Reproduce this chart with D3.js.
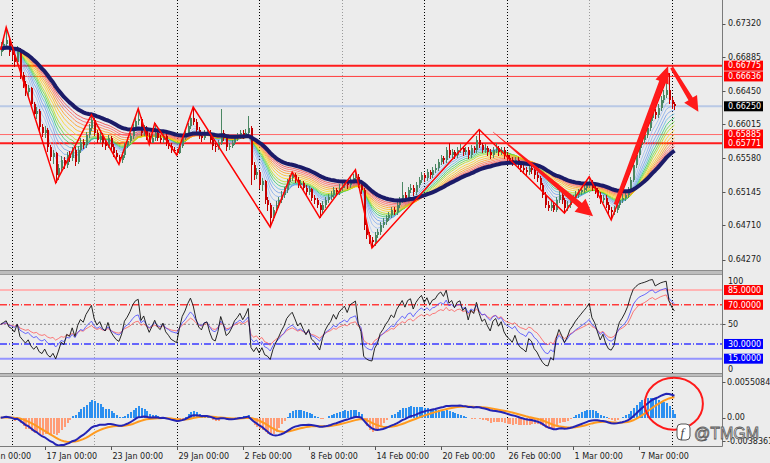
<!DOCTYPE html>
<html>
<head>
<meta charset="utf-8">
<title>AUDUSD H4</title>
<script src="https://cdn.jsdelivr.net/npm/d3@7"></script>
<style>
  html, body { margin: 0; padding: 0; background: #ececec; }
  #chart { width: 770px; height: 463px; }
  text { font-family: 'DejaVu Sans', sans-serif; font-size: 8px; fill: #1a1a1a; }
</style>
</head>
<body>
<div id="chart"></div>
<script>
// H4 bars, bar 0 = Mon 15 Jan 00:00. Prices in pips (1 pip = 0.0001)
const firstBar = -4;

const opens = [
  6695,6700,6706,6711,6695,6691,6682,6698,6665,6654, 6643,6648,6628,6615,6619,6598,6590,6595,6572,6560,
  6564,6536,6545,6556,6549,6562,6558,6569,6553,6569, 6579,6575,6588,6597,6607,6591,6582,6587,6578,6574,
  6584,6572,6565,6559,6556,6562,6575,6580,6587,6598, 6606,6609,6591,6597,6587,6578,6584,6591,6584,6581,
  6587,6578,6574,6569,6567,6565,6574,6584,6590,6600, 6610,6605,6595,6587,6584,6590,6591,6582,6574,6572,
  6578,6591,6584,6572,6574,6578,6584,6587,6591,6587, 6591,6597,6549,6536,6540,6523,6528,6504,6498,6481,
  6491,6498,6504,6511,6517,6527,6532,6536,6530,6523, 6526,6520,6514,6518,6507,6504,6498,6491,6498,6504,
  6508,6511,6517,6514,6520,6523,6526,6523,6530,6532, 6534,6523,6517,6472,6459,6452,6449,6459,6463,6472,
  6476,6481,6485,6491,6489,6498,6504,6511,6507,6517, 6520,6514,6523,6530,6536,6532,6540,6536,6543,6545,
  6553,6558,6556,6569,6562,6566,6562,6569,6571,6566, 6569,6562,6571,6569,6582,6575,6569,6571,6566,6562,
  6569,6571,6566,6569,6562,6558,6556,6553,6556,6549, 6545,6543,6540,6545,6543,6536,6532,6523,6511,6498,
  6494,6498,6491,6504,6511,6504,6494,6498,6504,6507, 6511,6514,6517,6520,6523,6527,6520,6517,6511,6504,
  6507,6498,6491,6489,6491,6498,6504,6507,6511,6517, 6530,6549,6562,6575,6582,6588,6597,6610,6618,6614,
  6623,6633,6640,6646,6633,6628
];
const highs = [
  6708,6712,6727,6715,6702,6696,6703,6700,6669,6658, 6652,6650,6631,6624,6621,6602,6600,6597,6575,6568,
  6566,6550,6561,6560,6566,6567,6573,6572,6574,6584, 6583,6592,6602,6614,6610,6594,6592,6590,6582,6588,
  6587,6576,6569,6562,6566,6578,6585,6591,6602,6611, 6622,6611,6601,6600,6590,6589,6603,6594,6588,6591,
  6590,6581,6577,6573,6570,6578,6588,6594,6604,6614, 6624,6608,6598,6590,6594,6596,6594,6585,6578,6582,
  6621,6595,6587,6578,6582,6588,6591,6595,6594,6596, 6612,6600,6553,6545,6543,6532,6530,6508,6500,6495,
  6502,6508,6515,6521,6531,6536,6540,6539,6533,6530, 6529,6523,6522,6520,6510,6507,6500,6502,6508,6512,
  6515,6521,6520,6524,6527,6530,6529,6534,6537,6543, 6537,6526,6520,6476,6463,6456,6463,6467,6476,6480,
  6485,6489,6495,6495,6502,6508,6527,6514,6521,6524, 6523,6527,6534,6540,6539,6544,6543,6547,6550,6557,
  6562,6561,6573,6578,6570,6569,6573,6576,6574,6573, 6572,6575,6574,6586,6595,6578,6576,6574,6570,6573,
  6577,6574,6573,6572,6566,6562,6560,6560,6559,6553, 6549,6547,6549,6548,6546,6540,6535,6526,6514,6502,
  6503,6501,6508,6515,6514,6507,6502,6508,6511,6515, 6518,6521,6524,6528,6534,6530,6524,6520,6514,6511,
  6510,6501,6495,6496,6502,6508,6512,6515,6521,6534, 6553,6566,6579,6587,6593,6601,6614,6623,6622,6628,
  6638,6646,6655,6668,6637,6631
];
const lows = [
  6690,6696,6702,6690,6685,6676,6679,6660,6648,6638, 6636,6623,6610,6609,6592,6585,6584,6566,6554,6550,
  6526,6530,6541,6544,6545,6553,6554,6548,6550,6565, 6570,6571,6584,6593,6586,6577,6578,6573,6569,6571,
  6567,6560,6555,6550,6552,6558,6571,6577,6583,6594, 6601,6587,6587,6582,6576,6577,6580,6580,6577,6578,
  6574,6570,6565,6564,6562,6563,6571,6581,6586,6596, 6601,6591,6583,6579,6581,6586,6577,6569,6566,6568,
  6575,6580,6567,6568,6571,6575,6580,6583,6583,6584, 6588,6523,6530,6531,6518,6515,6499,6490,6469,6477,
  6487,6494,6500,6507,6513,6523,6528,6526,6519,6519, 6516,6510,6510,6503,6499,6493,6481,6487,6494,6500,
  6504,6507,6510,6511,6516,6519,6518,6520,6526,6528, 6519,6512,6465,6453,6447,6442,6445,6455,6459,6468,
  6472,6477,6481,6484,6485,6494,6500,6502,6503,6513, 6509,6510,6519,6526,6527,6528,6531,6532,6539,6541,
  6549,6551,6552,6558,6558,6557,6558,6565,6561,6562, 6557,6558,6564,6565,6571,6564,6565,6561,6557,6558,
  6565,6561,6562,6557,6553,6551,6548,6549,6544,6540, 6538,6535,6536,6538,6531,6527,6518,6506,6493,6490,
  6490,6488,6489,6500,6499,6487,6490,6494,6500,6503, 6507,6510,6513,6516,6519,6516,6512,6506,6499,6500,
  6493,6486,6478,6484,6487,6494,6500,6502,6507,6514, 6527,6545,6558,6571,6578,6584,6593,6606,6609,6610,
  6619,6629,6636,6628,6622,6620
];
const closes = [
  6700,6706,6711,6695,6691,6682,6698,6665,6654,6643, 6648,6628,6615,6619,6598,6590,6595,6572,6560,6564,
  6536,6545,6556,6549,6562,6558,6569,6553,6569,6579, 6575,6588,6597,6607,6591,6582,6587,6578,6574,6584,
  6572,6565,6559,6556,6562,6575,6580,6587,6598,6606, 6609,6591,6597,6587,6578,6584,6591,6584,6581,6587,
  6578,6574,6569,6567,6565,6574,6584,6590,6600,6610, 6605,6595,6587,6584,6590,6591,6582,6574,6572,6578,
  6591,6584,6572,6574,6578,6584,6587,6591,6587,6591, 6597,6549,6536,6540,6523,6528,6504,6498,6481,6491,
  6498,6504,6511,6517,6527,6532,6536,6530,6523,6526, 6520,6514,6518,6507,6504,6498,6491,6498,6504,6508,
  6511,6517,6514,6520,6523,6526,6523,6530,6532,6534, 6523,6517,6472,6459,6452,6449,6459,6463,6472,6476,
  6481,6485,6491,6489,6498,6504,6511,6507,6517,6520, 6514,6523,6530,6536,6532,6540,6536,6543,6545,6553,
  6558,6556,6569,6562,6566,6562,6569,6571,6566,6569, 6562,6571,6569,6582,6575,6569,6571,6566,6562,6569,
  6571,6566,6569,6562,6558,6556,6553,6556,6549,6545, 6543,6540,6545,6543,6536,6532,6523,6511,6498,6494,
  6498,6491,6504,6511,6504,6494,6498,6504,6507,6511, 6514,6517,6520,6523,6527,6520,6517,6511,6504,6507,
  6498,6491,6489,6491,6498,6504,6507,6511,6517,6530, 6549,6562,6575,6582,6588,6597,6610,6618,6614,6623,
  6633,6640,6646,6633,6628,6625
];

const priceTicks = [0.67320, 0.66885, 0.66450, 0.66015, 0.65580, 0.65145, 0.64710, 0.64270];
const levelPrices = [0.66775, 0.66636, 0.66250, 0.65885, 0.65771];

const dateTickBars = [-12, 12, 36, 60, 84, 108, 132, 156, 180, 204, 228];
const dateTickLabels = ['11 Jan 00:00', '17 Jan 00:00', '23 Jan 00:00', '29 Jan 00:00', '2 Feb 00:00',
  '8 Feb 00:00', '14 Feb 00:00', '20 Feb 00:00', '26 Feb 00:00', '1 Mar 00:00', '7 Mar 00:00'];
const weekBars = [0, 30, 60, 90, 120, 150, 180, 210, 240];
const grayWeekBars = [30, 120, 210];

const zigzagBars = [-4, -2, 16, 29, 39, 46, 50, 52, 60, 66, 94, 102, 112, 125, 131, 170, 201, 210, 218, 239];
const zigzagPrices = [6698, 6727, 6526, 6614, 6550, 6622, 6576, 6603, 6562, 6624, 6469, 6540, 6481, 6543,
  6442, 6595, 6487, 6534, 6478, 6668];

const arrowStartBar = [175, 219.5, 240];
const arrowStartPrice = [0.6592, 0.6498, 0.6675];
const arrowEndBar = [211.4, 238.7, 249.7];
const arrowEndPrice = [0.6483, 0.6677, 0.6618];

const ribbonPeriods = [4, 6, 8, 10, 12, 14, 16, 18, 21, 24, 27, 30, 33, 36];
const slowPeriod = 42;
const rsiPeriods = [21, 14, 7];          // red, blue, black
const rsiLevels = [85, 70, 50, 30, 15];
const macdTicks = [0.0055084, 0, -0.0038361];
const macdTickLabels = ['0.0055084', '0.00', '-0.0038361'];
const osmaFactor = 2.5;

const ribbonColors = ['#a8c6f2', '#8fb5f0', '#77a4ee', '#5f93ea', '#4fb4e0', '#22c466', '#55d82a', '#b4d800',
  '#ffd000', '#ffb200', '#ff9400', '#ff7030', '#ff4c4c', '#ec2c2c'];

function ema(values, n) {
  const a = 2 / (n + 1);
  const out = [];
  values.forEach((v, i) => out.push(i === 0 ? v : out[i - 1] + a * (v - out[i - 1])));
  return out;
}

// Wilder RSI, started from a neutral average so the first bars do not spike
function rsi(values, n) {
  const diffs = values.map((v, i) => i ? v - values[i - 1] : 0);
  const seed = d3.mean(diffs.slice(1, n + 1), Math.abs);
  let up = seed, dn = seed;
  return values.map((v, i) => {
    if (i > 0) {
      up = (up * (n - 1) + Math.max(diffs[i], 0)) / n;
      dn = (dn * (n - 1) + Math.max(-diffs[i], 0)) / n;
    }
    return 100 - 100 / (1 + up / dn);
  });
}

class TradeChart {

  constructor(opts) {
    this.element = opts.element;
    this.bars = opts.bars;
    this.draw();
  }

  draw() {
    this.width = 770;
    this.height = 463;
    this.right = 722;
    this.panels = {
      main: { top: 0, bottom: 270 },
      rsi: { top: 275, bottom: 373 },
      macd: { top: 377, bottom: 446 }
    };

    this.element.innerHTML = '';
    this.svg = d3.select(this.element).append('svg')
      .attr('width', this.width)
      .attr('height', this.height)
      .attr('viewBox', `0 0 ${this.width} ${this.height}`);

    const defs = this.svg.append('defs');
    Object.entries(this.panels).forEach(([k, p]) => {
      defs.append('clipPath').attr('id', `clip-${k}`)
        .append('rect')
        .attr('x', 0).attr('y', p.top)
        .attr('width', this.right).attr('height', p.bottom - p.top);
    });

    this.createScales();
    this.addWeekLines();
    this.addMain();
    this.addRsi();
    this.addMacd();
    this.addSeparators();
    this.addAxes();
    this.addNotes();
  }

  createScales() {
    this.xScale = d3.scaleLinear().domain([0, 240]).range([11.7, 671.7]);
    this.yPrice = d3.scaleLinear().domain([0.64270, 0.67320]).range([259.5, 23.5]);
    this.yRsi = d3.scaleLinear().domain([0, 100]).range([373.4, 275.3]);
    this.yMacd = d3.scaleLinear().domain([macdTicks[2], macdTicks[0]]).range([446, 377]);
  }

  addWeekLines() {
    this.svg.append('g').selectAll('line')
      .data(weekBars)
      .join('line')
      .attr('x1', d => Math.round(this.xScale(d)) + 0.5)
      .attr('x2', d => Math.round(this.xScale(d)) + 0.5)
      .attr('y1', 0)
      .attr('y2', this.panels.macd.bottom)
      .attr('stroke', d => grayWeekBars.includes(d) ? '#9a9a9a' : '#000')
      .attr('stroke-width', 1)
      .attr('stroke-dasharray', '1,2');
  }

  addMain() {
    const g = this.svg.append('g').attr('clip-path', 'url(#clip-main)');
    const closeP = this.bars.map(d => d.c);

    const levelStyle = [
      { stroke: '#ff1c1c', w: 2 }, { stroke: '#ff3c3c', w: 1 }, { stroke: '#b9c9e6', w: 2 },
      { stroke: '#ff6a6a', w: 1 }, { stroke: '#ff1c1c', w: 2 }
    ];
    g.selectAll('.level')
      .data(levelPrices)
      .join('line')
      .attr('class', 'level')
      .attr('x1', 0).attr('x2', this.right)
      .attr('y1', d => this.yPrice(d)).attr('y2', d => this.yPrice(d))
      .attr('stroke', (d, i) => levelStyle[i].stroke)
      .attr('stroke-width', (d, i) => levelStyle[i].w);

    const line = d3.line()
      .x((v, k) => this.xScale(this.bars[k].i))
      .y(v => this.yPrice(v));

    ribbonPeriods.forEach((n, k) => {
      g.append('path')
        .datum(ema(closeP, n))
        .attr('d', line)
        .attr('fill', 'none')
        .attr('stroke', ribbonColors[k])
        .attr('stroke-width', 0.8)
        .attr('opacity', 0.9);
    });

    const candles = g.append('g').attr('shape-rendering', 'crispEdges');
    const colorOf = d => d.c >= d.o ? '#4b8763' : '#c40000';
    candles.selectAll('.wick')
      .data(this.bars)
      .join('rect')
      .attr('class', 'wick')
      .attr('x', d => Math.round(this.xScale(d.i)))
      .attr('width', 1)
      .attr('y', d => this.yPrice(d.h))
      .attr('height', d => Math.max(1, this.yPrice(d.l) - this.yPrice(d.h)))
      .attr('fill', colorOf);
    candles.selectAll('.body')
      .data(this.bars)
      .join('rect')
      .attr('class', 'body')
      .attr('x', d => Math.round(this.xScale(d.i)) - 0.5)
      .attr('width', 2)
      .attr('y', d => this.yPrice(Math.max(d.o, d.c)))
      .attr('height', d => Math.max(1, Math.abs(this.yPrice(d.o) - this.yPrice(d.c))))
      .attr('fill', colorOf);

    g.append('path')
      .datum(ema(closeP, slowPeriod))
      .attr('d', line)
      .attr('fill', 'none')
      .attr('stroke', '#1b1b68')
      .attr('stroke-width', 4)
      .attr('stroke-linejoin', 'round');

    const zz = zigzagBars.map((b, k) => [this.xScale(b), this.yPrice(zigzagPrices[k] / 10000)]);
    g.append('path')
      .attr('d', d3.line()(zz))
      .attr('fill', 'none')
      .attr('stroke', '#ff0000')
      .attr('stroke-width', 1.5);

    const arrowStyle = [
      { tail: 0.5, neck: 6, head: 17, wing: 17 },
      { tail: 3.5, neck: 6, head: 17, wing: 14 },
      { tail: 3.5, neck: 5, head: 15, wing: 15 }
    ];
    arrowStartBar.forEach((b, k) => {
      g.append('path')
        .attr('d', this.arrowPath(
          this.xScale(b), this.yPrice(arrowStartPrice[k]),
          this.xScale(arrowEndBar[k]), this.yPrice(arrowEndPrice[k]), arrowStyle[k]))
        .attr('fill', '#ff1a1a');
    });
  }

  arrowPath(x0, y0, x1, y1, st) {
    const dx = x1 - x0, dy = y1 - y0, len = Math.hypot(dx, dy);
    const ux = dx / len, uy = dy / len, nx = -uy, ny = ux;
    const bx = x1 - ux * st.head, by = y1 - uy * st.head;
    const p = [
      [x0 + nx * st.tail / 2, y0 + ny * st.tail / 2],
      [bx + nx * st.neck / 2, by + ny * st.neck / 2],
      [bx + nx * st.wing / 2, by + ny * st.wing / 2],
      [x1, y1],
      [bx - nx * st.wing / 2, by - ny * st.wing / 2],
      [bx - nx * st.neck / 2, by - ny * st.neck / 2],
      [x0 - nx * st.tail / 2, y0 - ny * st.tail / 2]
    ];
    return 'M' + p.map(q => q.join(',')).join('L') + 'Z';
  }

  addRsi() {
    const g = this.svg.append('g').attr('clip-path', 'url(#clip-rsi)');
    const levelStyle = [
      { stroke: '#ffb4b4', w: 2, dash: null },
      { stroke: '#ff3a3a', w: 1.5, dash: '7,2,1,2' },
      { stroke: '#8a8a8a', w: 1, dash: '2,2' },
      { stroke: '#3a3aff', w: 1.5, dash: '7,2,1,2' },
      { stroke: '#9494ff', w: 2, dash: null }
    ];
    g.selectAll('.rsi-level')
      .data(rsiLevels)
      .join('line')
      .attr('class', 'rsi-level')
      .attr('x1', 0).attr('x2', this.right)
      .attr('y1', d => this.yRsi(d)).attr('y2', d => this.yRsi(d))
      .attr('stroke', (d, i) => levelStyle[i].stroke)
      .attr('stroke-width', (d, i) => levelStyle[i].w)
      .attr('stroke-dasharray', (d, i) => levelStyle[i].dash);

    const closeP = this.bars.map(d => d.c);
    const line = d3.line()
      .x((v, k) => this.xScale(this.bars[k].i))
      .y(v => this.yRsi(v));
    const colors = ['#ff5a5a', '#4646ff', '#111111'];
    rsiPeriods.forEach((n, k) => {
      g.append('path')
        .datum(rsi(closeP, n))
        .attr('d', line)
        .attr('fill', 'none')
        .attr('stroke', colors[k])
        .attr('stroke-width', 1)
        .attr('opacity', k === 2 ? 0.9 : 0.8);
    });
  }

  addMacd() {
    const g = this.svg.append('g').attr('clip-path', 'url(#clip-macd)');
    const closeP = this.bars.map(d => d.c);
    const fast = ema(closeP, 12), slow = ema(closeP, 26);
    const macd = fast.map((v, i) => v - slow[i]);
    const signal = ema(macd, 9);
    const hist = macd.map((v, i) => (v - signal[i]) * osmaFactor);
    const y0 = this.yMacd(0);

    g.append('g').attr('shape-rendering', 'crispEdges')
      .selectAll('rect')
      .data(hist)
      .join('rect')
      .attr('x', (v, k) => Math.round(this.xScale(this.bars[k].i)) - 0.5)
      .attr('width', 2)
      .attr('y', v => Math.min(y0, this.yMacd(v)))
      .attr('height', v => Math.abs(this.yMacd(v) - y0))
      .attr('fill', v => v >= 0 ? '#2b8ff0' : '#ff9c76');

    const line = d3.line()
      .x((v, k) => this.xScale(this.bars[k].i))
      .y(v => this.yMacd(v));
    g.append('path').datum(signal).attr('d', line)
      .attr('fill', 'none').attr('stroke', '#ff9a1e').attr('stroke-width', 2);
    g.append('path').datum(macd).attr('d', line)
      .attr('fill', 'none').attr('stroke', '#2323b4').attr('stroke-width', 2);
  }

  addSeparators() {
    [[270, 275], [373, 377]].forEach(([a, b]) => {
      this.svg.append('rect')
        .attr('x', 0).attr('y', a).attr('width', this.right).attr('height', b - a)
        .attr('fill', '#bdbdbd');
      this.svg.append('line')
        .attr('x1', 0).attr('x2', this.right).attr('y1', a + 0.5).attr('y2', a + 0.5)
        .attr('stroke', '#8c8c8c');
      this.svg.append('line')
        .attr('x1', 0).attr('x2', this.right).attr('y1', b - 0.5).attr('y2', b - 0.5)
        .attr('stroke', '#9c9c9c');
    });
  }

  addAxes() {
    const ax = this.svg.append('g');
    const R = this.right + 0.5;
    ax.append('line').attr('x1', R).attr('x2', R).attr('y1', 0).attr('y2', 446.5).attr('stroke', '#7a7a7a');
    ax.append('line').attr('x1', 0).attr('x2', R).attr('y1', 446.5).attr('y2', 446.5).attr('stroke', '#7a7a7a');

    const tick = (y) => ax.append('line').attr('x1', R).attr('x2', R + 3)
      .attr('y1', Math.round(y) + 0.5).attr('y2', Math.round(y) + 0.5).attr('stroke', '#555');
    const label = (y, txt, bg) => {
      if (bg) {
        ax.append('rect').attr('x', 724).attr('y', y - 5).attr('width', 39).attr('height', 10).attr('fill', bg);
      }
      ax.append('text').attr('x', 728).attr('y', y).attr('dy', '0.35em')
        .style('fill', bg ? '#fff' : '#1a1a1a').text(txt);
    };

    priceTicks.forEach(p => { tick(this.yPrice(p)); label(this.yPrice(p), p.toFixed(5)); });
    const levelBg = ['#ff0000', '#ff0000', '#000000', '#ff0000', '#ff0000'];
    levelPrices.forEach((p, i) => label(this.yPrice(p), p.toFixed(5), levelBg[i]));

    label(this.yRsi(100) + 6, '100');
    tick(this.yRsi(50)); label(this.yRsi(50), '50');
    label(this.yRsi(0) - 4, '0');
    const rsiBg = { 85: '#ff0000', 70: '#ff0000', 30: '#0000ff', 15: '#0000ff' };
    [85, 70, 30, 15].forEach(v => label(this.yRsi(v), v.toFixed(4), rsiBg[v]));

    macdTicks.forEach((v, i) => {
      const y = i === 0 ? this.yMacd(v) + 5 : i === 2 ? this.yMacd(v) - 5 : this.yMacd(v);
      tick(y);
      ax.append('text').attr('x', 727).attr('y', y).attr('dy', '0.35em').text(macdTickLabels[i]);
    });

    dateTickBars.forEach((b, i) => {
      const x = Math.round(this.xScale(b)) + 0.5;
      ax.append('line').attr('x1', x).attr('x2', x).attr('y1', 446.5).attr('y2', 450).attr('stroke', '#555');
      ax.append('text').attr('x', x + 1).attr('y', 458.5).text(dateTickLabels[i]);
    });
  }

  addNotes() {
    this.svg.append('ellipse')
      .attr('cx', this.xScale(240.8))
      .attr('cy', this.yMacd(0.0019))
      .attr('rx', 29).attr('ry', 26)
      .attr('fill', 'none')
      .attr('stroke', '#ff1a1a')
      .attr('stroke-width', 2);

    const wm = this.svg.append('g');
    wm.append('rect').attr('x', 677).attr('y', 424).attr('width', 13).attr('height', 16).attr('rx', 4)
      .attr('fill', '#fff').attr('stroke', '#555').attr('stroke-width', 1);
    wm.append('text').attr('x', 680.5).attr('y', 437)
      .style('font-family', 'Liberation Serif, serif').style('font-style', 'italic')
      .style('font-size', '13px').style('fill', '#444').text('f');
    wm.append('text').attr('x', 694).attr('y', 439)
      .style('font-family', 'Liberation Sans, sans-serif').style('font-size', '16px')
      .style('fill', '#fff').style('stroke', '#5a5a5a').style('stroke-width', 0.8)
      .text('@TMGM');
  }
}

const bars = closes.map((c, k) => ({
  i: firstBar + k,
  o: opens[k] / 10000,
  h: highs[k] / 10000,
  l: lows[k] / 10000,
  c: c / 10000
}));

new TradeChart({ element: document.getElementById('chart'), bars: bars });
</script>
</body>
</html>
